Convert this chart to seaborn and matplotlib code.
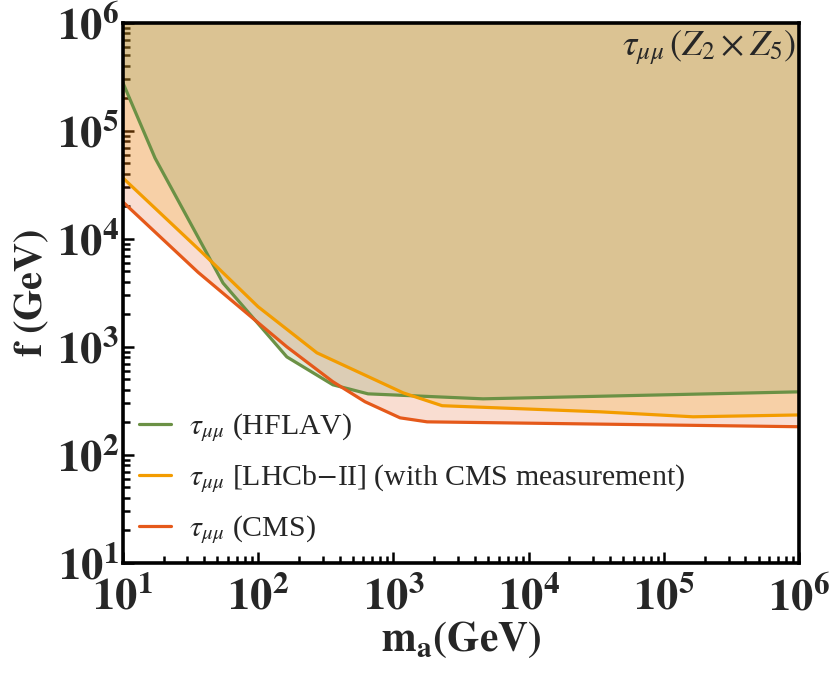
import numpy as np
import pandas as pd
import matplotlib
matplotlib.use("Agg")
import matplotlib.pyplot as plt
import matplotlib.ticker as mticker
import seaborn as sns

# %% DATA
hflav_m = [10, 17.3, 55, 163, 357, 649, 4600, 1e6]
hflav_f = [2.8e5, 5.6e4, 3.9e3, 807, 445, 367, 330, 383]

lhcb_m = [10, 38, 100, 272, 1180, 2290, 3.4e4, 1.64e5, 1e6]
lhcb_f = [3.67e4, 7.6e3, 2.35e3, 880, 375, 285, 250, 225, 234]

cms_m = [10, 36, 163, 357, 617, 1120, 1775, 1e6]
cms_f = [2.2e4, 4.9e3, 1000, 475, 310, 220, 202, 182]

labels = [r'$\tau_{\mu\mu}$ (HFLAV)',
          r'$\tau_{\mu\mu}$ [LHCb$-$II] (with CMS measurement)',
          r'$\tau_{\mu\mu}$ (CMS)']
colors = ['#6b9145', '#f39c00', '#e5591a']

# %% FRAME
df = pd.concat([
    pd.DataFrame({'m': hflav_m, 'f': hflav_f, 'bound': labels[0]}),
    pd.DataFrame({'m': lhcb_m, 'f': lhcb_f, 'bound': labels[1]}),
    pd.DataFrame({'m': cms_m, 'f': cms_f, 'bound': labels[2]}),
], ignore_index=True)

# %% PLOT
sns.set_style("white")
plt.rcParams['font.family'] = ['Liberation Serif', 'DejaVu Serif']
plt.rcParams['mathtext.fontset'] = 'stix'

fig = plt.figure(figsize=(8.3, 6.74), dpi=100)
ax = fig.add_axes([0.148, 0.165, 0.815, 0.801])

# filled regions above each bound (drawn CMS first, HFLAV last)
for lab, col in zip(labels[::-1], colors[::-1]):
    sub = df[df.bound == lab]
    ax.fill_between(sub.m, sub.f, 1e6, color=col, alpha=0.2, lw=0)

sns.lineplot(data=df, x='m', y='f', hue='bound', palette=dict(zip(labels, colors)),
             sort=False, estimator=None, lw=2.3, ax=ax)

ax.set_xscale('log')
ax.set_yscale('log')
ax.set_xlim(10, 1e6)
ax.set_ylim(10, 1e6)

fmt = mticker.FuncFormatter(lambda v, p: r'$\mathbf{10^{%d}}$' % round(np.log10(v)))
ax.xaxis.set_major_formatter(fmt)
ax.yaxis.set_major_formatter(fmt)
ax.xaxis.set_major_locator(mticker.LogLocator(base=10, numticks=10))
ax.yaxis.set_major_locator(mticker.LogLocator(base=10, numticks=10))
ax.xaxis.set_minor_locator(mticker.LogLocator(base=10, subs=np.arange(2, 10), numticks=10))
ax.yaxis.set_minor_locator(mticker.LogLocator(base=10, subs=np.arange(2, 10), numticks=10))
ax.xaxis.set_minor_formatter(mticker.NullFormatter())
ax.yaxis.set_minor_formatter(mticker.NullFormatter())
ax.tick_params(which='both', direction='in', top=False, right=False,
               left=True, bottom=True, width=1.8, color='black')
ax.tick_params(which='major', length=8, labelsize=32)
ax.tick_params(which='minor', length=5)
ax.xaxis.set_tick_params(which='major', pad=10)
ax.yaxis.set_tick_params(which='major', pad=3)
for lbl in ax.yaxis.get_majorticklabels():
    lbl.set_va('center_baseline')

for s in ax.spines.values():
    s.set_linewidth(2.6)
    s.set_color('black')

ax.set_xlabel(r'$\mathbf{m_a(GeV)}$', fontsize=30, labelpad=0)
ax.set_ylabel(r'$\mathbf{f\ (GeV)}$', fontsize=29, labelpad=4)

ax.text(0.995, 0.99, r'$\tau_{\mu\mu}\,(Z_2 \times Z_5)$', transform=ax.transAxes,
        ha='right', va='top', fontsize=26)

handles, _ = ax.get_legend_handles_labels()
ax.legend(handles, labels, loc='lower left', frameon=False, fontsize=21.5,
          handlelength=1.1, handletextpad=0.6, labelspacing=0.62,
          borderaxespad=0.4, bbox_to_anchor=(-0.012, -0.014))

fig.savefig('out.png', dpi=100)
